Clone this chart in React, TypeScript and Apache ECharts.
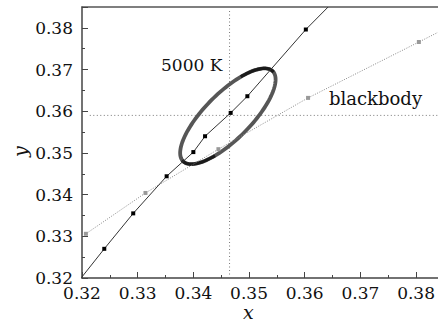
import React, { useEffect, useRef } from "react";
import * as echarts from "echarts";

// 5000 K line (black solid, black squares)
const lineX = [0.3199, 0.324, 0.3292, 0.3352, 0.34, 0.3421, 0.3467, 0.3497, 0.3602, 0.3642];
const lineY = [0.3201, 0.327, 0.3355, 0.3444, 0.3502, 0.354, 0.3596, 0.3636, 0.3796, 0.385];
const lineMarked = [false, true, true, true, true, true, true, true, true, false];

// blackbody locus (grey dotted, grey squares)
const bbX = [0.32, 0.3207, 0.3314, 0.3445, 0.3606, 0.3805, 0.3839];
const bbY = [0.3302, 0.3306, 0.3404, 0.3509, 0.3632, 0.3766, 0.3789];
const bbMarked = [false, true, true, true, true, true, false];

// reference point (dotted cross)
const refX = 0.3465;
const refY = 0.359;

// ellipse: centre and two conjugate half-axis vectors (data units)
const ellipseCenter = [0.3462, 0.3588];
const ellipseMajor = [0.00806, 0.01079];
const ellipseMinor = [0.00292, -0.00391];
// darker arcs of the ellipse ring (parameter ranges, radians)
const darkArcs = [
  [-0.95, 0.05],
  [Math.PI - 0.95, Math.PI + 0.05],
];

const xTicks = [0.32, 0.33, 0.34, 0.35, 0.36, 0.37, 0.38];
const yTicks = [0.32, 0.33, 0.34, 0.35, 0.36, 0.37, 0.38];

const FONT = "DejaVu Serif";

export default function App() {
  const ref = useRef<HTMLDivElement>(null);
  useEffect(() => {
    if (!ref.current) return;
    const chart = echarts.init(ref.current, null, { renderer: "svg" });
    const isTick = (v: number, list: number[]) => list.some((t) => Math.abs(t - v) < 1e-6);
    const axisCommon = {
      type: "value" as const,
      interval: 0.01,
      axisLine: { show: true, lineStyle: { color: "#444", width: 1.5 } },
      axisTick: { show: true, inside: true, length: 6, lineStyle: { color: "#444", width: 1 } },
      minorTick: { show: true, splitNumber: 2, length: 3, lineStyle: { color: "#444", width: 1 } },
      splitLine: { show: false },
      minorSplitLine: { show: false },
    };
    const ellipsePoint = (api: any, t: number) =>
      api.coord([
        ellipseCenter[0] + Math.cos(t) * ellipseMajor[0] + Math.sin(t) * ellipseMinor[0],
        ellipseCenter[1] + Math.cos(t) * ellipseMajor[1] + Math.sin(t) * ellipseMinor[1],
      ]);
    chart.setOption({
      animation: false,
      grid: { left: 82, right: 0, top: 7, bottom: 44 },
      xAxis: [
        {
          ...axisCommon,
          min: 0.32,
          max: 0.3839,
          axisLabel: {
            fontFamily: FONT,
            fontSize: 17,
            color: "#111",
            margin: 6,
            showMaxLabel: false,
            formatter: (v: number) => (isTick(v, xTicks) ? v.toFixed(2) : ""),
          },
        },
        {
          type: "value",
          position: "top",
          min: 0.32,
          max: 0.3839,
          axisLine: { show: true, onZero: false, lineStyle: { color: "#555", width: 1.5 } },
          axisTick: { show: false },
          axisLabel: { show: false },
          splitLine: { show: false },
        },
      ],
      yAxis: {
        ...axisCommon,
        min: 0.32,
        max: 0.385,
        axisLabel: {
          fontFamily: FONT,
          fontSize: 17,
          color: "#111",
          margin: 9,
          showMaxLabel: false,
          formatter: (v: number) => (isTick(v, yTicks) ? v.toFixed(2) : ""),
        },
      },
      series: [
        {
          type: "line",
          data: [
            [0.3214, refY],
            [0.3839, refY],
          ],
          symbol: "none",
          lineStyle: { color: "#777", width: 1, type: [1, 2.5] },
          z: 1,
        },
        {
          type: "line",
          data: [
            [refX, 0.32],
            [refX, 0.3845],
          ],
          symbol: "none",
          lineStyle: { color: "#777", width: 1, type: [1, 2.5] },
          z: 1,
        },
        {
          type: "custom",
          data: [ellipseCenter],
          z: 2,
          renderItem: (params: any, api: any) => {
            const N = 144;
            const pts: number[][] = [];
            for (let i = 0; i <= N; i++) pts.push(ellipsePoint(api, (2 * Math.PI * i) / N));
            const children: any[] = [
              {
                type: "polygon",
                shape: { points: pts },
                style: { fill: "none", stroke: "#565656", lineWidth: 3.8 },
              },
            ];
            darkArcs.forEach(([t0, t1]) => {
              const arc: number[][] = [];
              const M = 30;
              for (let i = 0; i <= M; i++) arc.push(ellipsePoint(api, t0 + ((t1 - t0) * i) / M));
              children.push({
                type: "polyline",
                shape: { points: arc },
                style: { fill: "none", stroke: "#1a1a1a", lineWidth: 3.2 },
              });
            });
            return { type: "group", children };
          },
        },
        {
          type: "line",
          data: bbX.map((x, i) =>
            bbMarked[i] ? [x, bbY[i]] : { value: [x, bbY[i]], symbol: "none" }
          ),
          symbol: "rect",
          symbolSize: 4,
          itemStyle: { color: "#999" },
          lineStyle: { color: "#888", width: 1, type: [1, 1.5] },
          z: 3,
        },
        {
          type: "line",
          data: lineX.map((x, i) =>
            lineMarked[i] ? [x, lineY[i]] : { value: [x, lineY[i]], symbol: "none" }
          ),
          symbol: "rect",
          symbolSize: 4,
          itemStyle: { color: "#000" },
          lineStyle: { color: "#333", width: 1 },
          z: 4,
        },
      ],
      graphic: [
        {
          type: "text",
          left: 161,
          top: 56,
          style: { text: "5000 K", fontFamily: FONT, fontSize: 17, fill: "#111" },
        },
        {
          type: "text",
          left: 329,
          top: 89,
          style: { text: "blackbody", fontFamily: FONT, fontSize: 18, fill: "#111" },
        },
        {
          type: "text",
          left: 243,
          top: 302,
          style: { text: "x", fontFamily: FONT, fontStyle: "italic", fontSize: 19, fill: "#111" },
        },
        {
          type: "text",
          x: 10,
          y: 157,
          rotation: Math.PI / 2,
          style: { text: "y", fontFamily: FONT, fontStyle: "italic", fontSize: 19, fill: "#111" },
        },
      ],
    });
    return () => chart.dispose();
  }, []);
  return (
    <div
      ref={ref}
      style={{ position: "absolute", left: 0, top: 0, width: 438, height: 322 }}
    />
  );
}
